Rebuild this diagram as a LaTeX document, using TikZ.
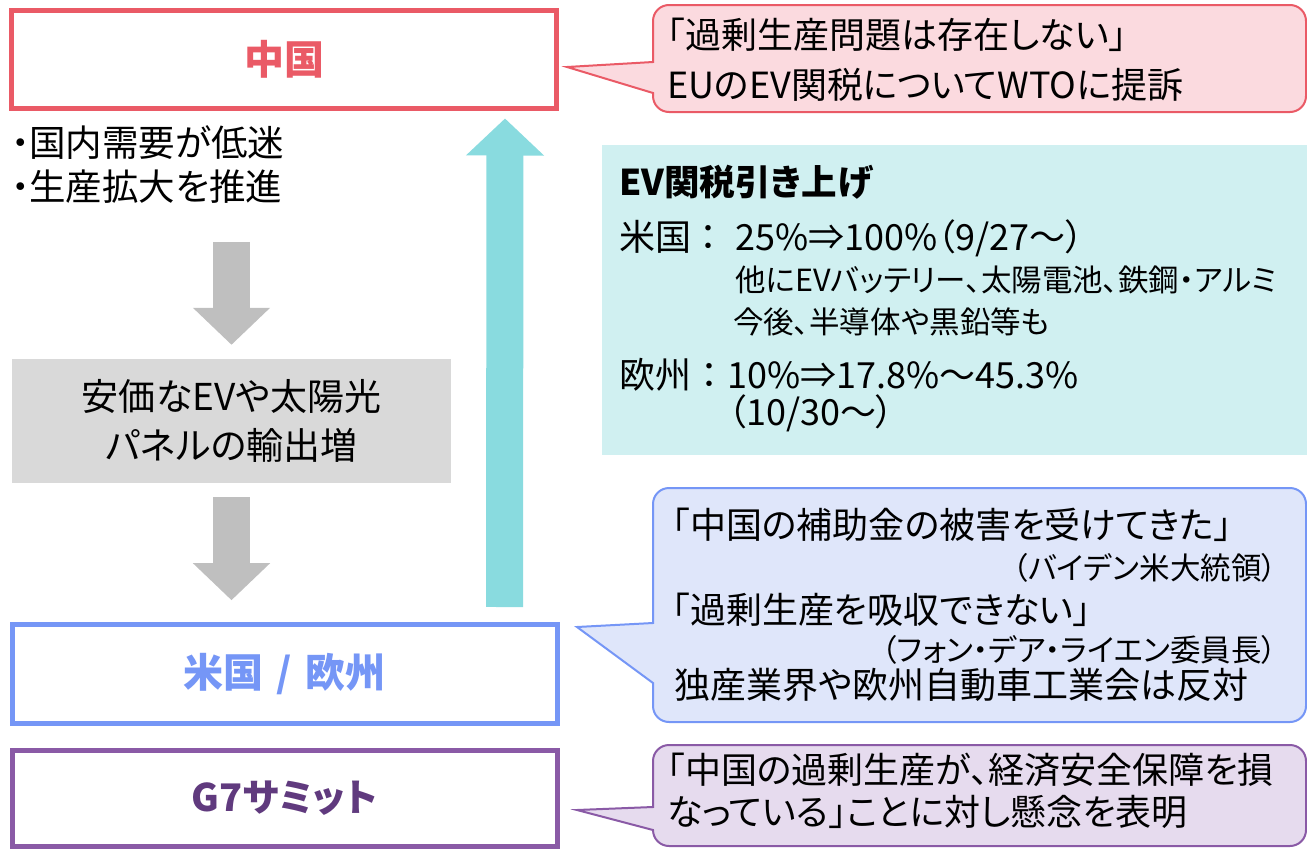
\documentclass[tikz,border=0pt]{standalone}
\usepackage{fontspec}
\setmainfont{Noto Sans CJK JP}[RawFeature={+palt}]
\usetikzlibrary{arrows.meta}
\definecolor{cnred}{HTML}{EA5A66}
\definecolor{cnpink}{HTML}{FBDADF}
\definecolor{usblue}{HTML}{7596F6}
\definecolor{usfill}{HTML}{DFE6FA}
\definecolor{gpurple}{HTML}{8A5AA6}
\definecolor{gtext}{HTML}{603A7E}
\definecolor{gfill}{HTML}{E6DBEE}
\definecolor{tcyan}{HTML}{89DBDF}
\definecolor{tfill}{HTML}{D0F0F1}
\definecolor{agrey}{HTML}{BFBFBF}
\definecolor{bgrey}{HTML}{D9D9D9}
\tikzset{
  actor/.style={draw=#1,line width=5pt,minimum width=545pt,inner sep=0pt,
    text=#1,font=\fontsize{40}{42}\selectfont\bfseries},
  txt/.style={inner sep=0pt,anchor=west,align=left,font=\fontsize{36}{40}\selectfont},
  smalltxt/.style={inner sep=0pt,font=\fontsize{30.5}{32}\selectfont},
  callout/.style={line width=2pt,draw=#1},
  greyarrow/.style={agrey,line width=37pt,-{Triangle[length=37pt,width=75pt]}},
}
\begin{document}
\begin{tikzpicture}[x=1pt,y=-1pt]
\useasboundingbox (0,0) rectangle (1307,849);
% left column
\node[actor=cnred,minimum height=98pt] (cn) at (284,59) {中国};
\node[txt,font=\fontsize{36.5}{44}\selectfont] (cause) at (11,165) {・国内需要が低迷\\・生産拡大を推進};
\node[fill=bgrey,minimum width=439pt,minimum height=124pt,inner sep=0pt,
  align=center,font=\fontsize{37}{49}\selectfont] (export) at (231.5,421) {安価なEVや太陽光\\パネルの輸出増};
\node[actor=usblue,minimum height=99pt] (us) at (284.5,674) {米国\hspace{4pt} / \hspace{4pt}欧州};
\node[actor=gpurple,minimum height=96pt,text=gtext,font=\fontsize{38}{40}\selectfont\bfseries] (g7) at (284.5,798) {G7サミット};
\draw[greyarrow] ([yshift=117pt]export.north) -- ([yshift=14pt]export.north);
\draw[greyarrow] ([yshift=-14pt]export.south) -- ([yshift=-117pt]export.south);
\draw[tcyan,line width=37pt,-{Triangle[length=37pt,width=76pt]}]
  ([xshift=220pt,yshift=15pt]us.north) -- ([xshift=221pt,yshift=-8pt]cn.south);
% tariff box
\node[fill=tfill,minimum width=710pt,minimum height=310pt,inner sep=0pt,anchor=north west] (tariff) at (602,145) {};
\node[txt,font=\fontsize{35.5}{40}\selectfont\bfseries] (thead) at (619,182) {EV関税引き上げ};
\node[txt] (tus) at (619,238) {米国\hspace{8pt}：\hspace{18pt}25\%⇒100\%（9/27～）};
\node[smalltxt,anchor=west] (tus2) at (735,280) {他にEVバッテリー、太陽電池、鉄鋼・アルミ};
\node[smalltxt,anchor=west] (tus3) at (733,322) {今後、半導体や黒鉛等も};
\node[txt] (teu) at (619,375) {欧州\hspace{9pt}：\hspace{9pt}10\%⇒17.8\%～45.3\%};
\node[txt] (teu2) at (728,413) {（10/30～）};
% callouts
\draw[callout=cnred,fill=cnpink] (567,67) -- (653,62) [rounded corners=16pt] -- (653,5) -- (1306,5)
  -- (1306,112) -- (653,112) [sharp corners] -- (653,93) -- cycle;
\node[txt,font=\fontsize{36}{50}\selectfont] (cnsay) at (667,60) {「過剰生産問題は存在しない」\\EUのEV関税についてWTOに提訴};
\draw[callout=usblue,fill=usfill] (577,627) -- (653,623) [rounded corners=16pt] -- (653,488) -- (1306,488)
  -- (1306,722) -- (653,722) [sharp corners] -- (653,683) -- cycle;
\node[txt] (ussay1) at (672,525) {「中国の補助金の被害を受けてきた」};
\node[smalltxt,anchor=east] (ussay2) at (1277,568) {（バイデン米大統領）};
\node[txt] (ussay3) at (672,610) {「過剰生産を吸収できない」};
\node[smalltxt,anchor=east] (ussay4) at (1277,650) {（フォン・デア・ライエン委員長）};
\node[txt] (ussay5) at (674,685) {独産業界や欧州自動車工業会は反対};
\draw[callout=gpurple,fill=gfill] (577,810) -- (653,807) [rounded corners=16pt] -- (653,745) -- (1306,745)
  -- (1306,846) -- (653,846) [sharp corners] -- (653,830) -- cycle;
\node[txt,font=\fontsize{36}{42}\selectfont] (g7say) at (667,791) {「中国の過剰生産が、経済安全保障を損\\なっている」ことに対し懸念を表明};
\end{tikzpicture}
\end{document}
